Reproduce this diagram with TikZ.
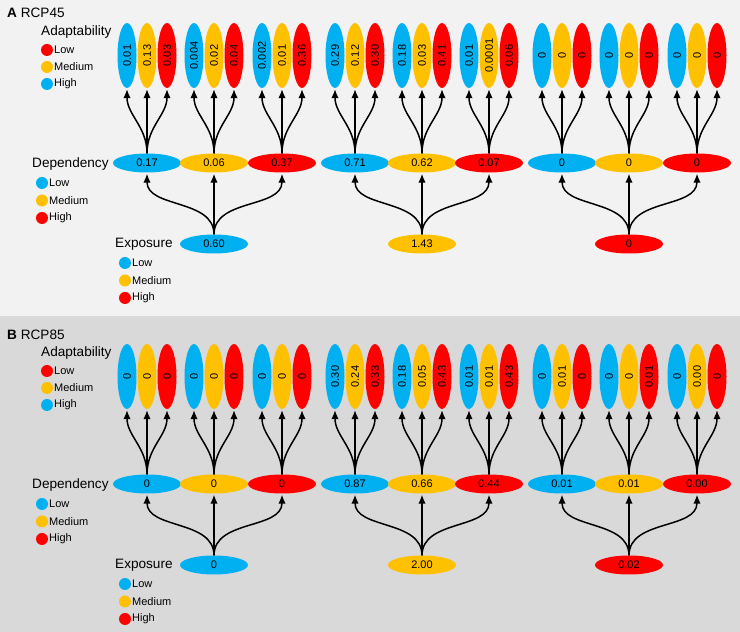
\documentclass[tikz,border=0pt]{standalone}
\usepackage{graphicx}
\usepackage{fontspec}
\setmainfont{Liberation Sans}
\usetikzlibrary{arrows.meta,shapes.geometric}
\definecolor{lowblue}{HTML}{00B0F0}
\definecolor{medyellow}{HTML}{FFC000}
\definecolor{highred}{HTML}{FF0000}
\definecolor{panelA}{HTML}{F2F2F2}
\definecolor{panelB}{HTML}{D9D9D9}
\begin{document}
\begin{tikzpicture}[x=1pt, y=1pt,
    adapt/.style={ellipse, inner sep=0pt, minimum width=19pt, minimum height=65pt, font=\fontsize{11}{12}\selectfont},
    level/.style={ellipse, inner sep=0pt, minimum width=68pt, minimum height=19pt, font=\fontsize{11}{12}\selectfont},
    legdot/.style={circle, inner sep=0pt, minimum size=12pt},
    item/.style={anchor=west, inner sep=0pt, font=\fontsize{11}{12}\selectfont},
    heading/.style={anchor=west, inner sep=0pt, font=\fontsize{13.6}{15}\selectfont},
    arrow/.style={-{Latex[length=9pt,width=7.5pt]}, line width=1.5pt, shorten >=1pt}
]
    \useasboundingbox (0,0) rectangle (740,632);

    % Panel A
    \begin{scope}[yshift=632pt]
    \fill[panelA] (0,0) rectangle (740,-316);
    \node[heading] (titleA) at (7,-13) {\textbf{A} RCP45};

    % Legends
    \node[heading] (adaptA) at (41,-32) {Adaptability};
    \foreach \i/\c/\t in {1/highred/Low, 2/medyellow/Medium, 3/lowblue/High}{
        \node[legdot, fill=\c] (adDotA\i) at (47,-33-17*\i) {};
        \node[item] (adTxtA\i) at (54,-33-17*\i) {\t};
    }
    \node[heading] (dependA) at (32,-164) {Dependency};
    \foreach \i/\c/\t in {1/lowblue/Low, 2/medyellow/Medium, 3/highred/High}{
        \node[legdot, fill=\c] (depDotA\i) at (42,-165.5-17.5*\i) {};
        \node[item] (depTxtA\i) at (49,-165.5-17.5*\i) {\t};
    }
    \node[heading] (exposA) at (115,-244) {Exposure};
    \foreach \i/\c/\t in {1/lowblue/Low, 2/medyellow/Medium, 3/highred/High}{
        \node[legdot, fill=\c] (expDotA\i) at (125,-245.5-17.5*\i) {};
        \node[item] (expTxtA\i) at (132,-245.5-17.5*\i) {\t};
    }

    % Dependency and adaptability
    \foreach \g/\x/\bv/\mv/\rv/\dc/\dv in {
        1/147/0.01/0.13/0.03/lowblue/0.17,
        2/214/0.004/0.02/0.04/medyellow/0.06,
        3/282/0.002/0.01/0.36/highred/0.37,
        4/355/0.29/0.12/0.30/lowblue/0.71,
        5/422/0.18/0.03/0.41/medyellow/0.62,
        6/489/0.01/0.0001/0.06/highred/0.07,
        7/562/0/0/0/lowblue/0,
        8/629/0/0/0/medyellow/0,
        9/697/0/0/0/highred/0}{
        \node[adapt, fill=lowblue] (adA\g-b) at (\x-20,-55.5) {\rotatebox{90}{\bv}};
        \node[adapt, fill=medyellow] (adA\g-m) at (\x,-55.5) {\rotatebox{90}{\mv}};
        \node[adapt, fill=highred] (adA\g-r) at (\x+20,-55.5) {\rotatebox{90}{\rv}};
        \node[level, fill=\dc] (depA\g) at (\x,-163) {\dv};
        \draw[arrow] (depA\g.north) to[out=90, in=-90] (adA\g-b.south);
        \draw[arrow] (depA\g.north) to[out=90, in=-90] (adA\g-m.south);
        \draw[arrow] (depA\g.north) to[out=90, in=-90] (adA\g-r.south);
    }

    % Exposure
    \foreach \e/\x/\c/\v/\p/\q/\r in {1/214/lowblue/0.60/1/2/3, 2/422/medyellow/1.43/4/5/6, 3/629/highred/0/7/8/9}{
        \node[level, fill=\c] (expA\e) at (\x,-244) {\v};
        \draw[arrow] (expA\e.north) to[out=90, in=-90] (depA\p.south);
        \draw[arrow] (expA\e.north) to[out=90, in=-90] (depA\q.south);
        \draw[arrow] (expA\e.north) to[out=90, in=-90] (depA\r.south);
    }
    \end{scope}

    % Panel B
    \begin{scope}[yshift=311pt]
    \fill[panelB] (0,5) rectangle (740,-311);
    \node[heading] (titleB) at (7,-13.5) {\textbf{B} RCP85};

    % Legends
    \node[heading] (adaptB) at (41,-32) {Adaptability};
    \foreach \i/\c/\t in {1/highred/Low, 2/medyellow/Medium, 3/lowblue/High}{
        \node[legdot, fill=\c] (adDotB\i) at (47,-33-17*\i) {};
        \node[item] (adTxtB\i) at (54,-33-17*\i) {\t};
    }
    \node[heading] (dependB) at (32,-164) {Dependency};
    \foreach \i/\c/\t in {1/lowblue/Low, 2/medyellow/Medium, 3/highred/High}{
        \node[legdot, fill=\c] (depDotB\i) at (42,-165.5-17.5*\i) {};
        \node[item] (depTxtB\i) at (49,-165.5-17.5*\i) {\t};
    }
    \node[heading] (exposB) at (115,-244) {Exposure};
    \foreach \i/\c/\t in {1/lowblue/Low, 2/medyellow/Medium, 3/highred/High}{
        \node[legdot, fill=\c] (expDotB\i) at (125,-245.5-17.5*\i) {};
        \node[item] (expTxtB\i) at (132,-245.5-17.5*\i) {\t};
    }

    % Dependency and adaptability
    \foreach \g/\x/\bv/\mv/\rv/\dc/\dv in {
        1/147/0/0/0/lowblue/0,
        2/214/0/0/0/medyellow/0,
        3/282/0/0/0/highred/0,
        4/355/0.30/0.24/0.33/lowblue/0.87,
        5/422/0.18/0.05/0.43/medyellow/0.66,
        6/489/0.01/0.01/0.43/highred/0.44,
        7/562/0/0.01/0/lowblue/0.01,
        8/629/0/0/0.01/medyellow/0.01,
        9/697/0/0.00/0/highred/0.00}{
        \node[adapt, fill=lowblue] (adB\g-b) at (\x-20,-55.5) {\rotatebox{90}{\bv}};
        \node[adapt, fill=medyellow] (adB\g-m) at (\x,-55.5) {\rotatebox{90}{\mv}};
        \node[adapt, fill=highred] (adB\g-r) at (\x+20,-55.5) {\rotatebox{90}{\rv}};
        \node[level, fill=\dc] (depB\g) at (\x,-163) {\dv};
        \draw[arrow] (depB\g.north) to[out=90, in=-90] (adB\g-b.south);
        \draw[arrow] (depB\g.north) to[out=90, in=-90] (adB\g-m.south);
        \draw[arrow] (depB\g.north) to[out=90, in=-90] (adB\g-r.south);
    }

    % Exposure
    \foreach \e/\x/\c/\v/\p/\q/\r in {1/214/lowblue/0/1/2/3, 2/422/medyellow/2.00/4/5/6, 3/629/highred/0.02/7/8/9}{
        \node[level, fill=\c] (expB\e) at (\x,-244) {\v};
        \draw[arrow] (expB\e.north) to[out=90, in=-90] (depB\p.south);
        \draw[arrow] (expB\e.north) to[out=90, in=-90] (depB\q.south);
        \draw[arrow] (expB\e.north) to[out=90, in=-90] (depB\r.south);
    }
    \end{scope}
\end{tikzpicture}
\end{document}
